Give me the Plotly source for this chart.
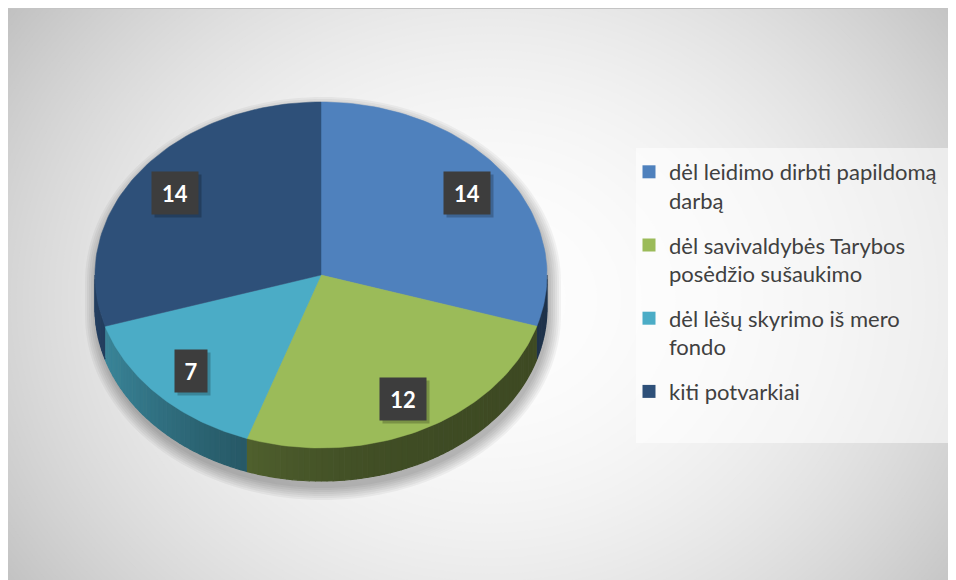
import numpy as np
import plotly.graph_objects as go

# data
labels = ["dėl leidimo dirbti papildomą<br>darbą",
          "dėl savivaldybės Tarybos<br>posėdžio sušaukimo",
          "dėl lėšų skyrimo iš mero<br>fondo",
          "kiti potvarkiai"]
values = [14, 12, 7, 14]
colors = ["#4f81bd", "#9bbb59", "#4bacc6", "#2e5079"]

# pie geometry (page pixels)
cx, cy = 321, 275
rx, ry = 226, 173
depth = 33


def pt(t, dy=0, ex=0):
    t = np.radians(t)
    return cx + (rx + ex) * np.sin(t), cy + dy - (ry + ex) * np.cos(t)


def hex2rgb(c):
    return [int(c[i:i + 2], 16) for i in (1, 3, 5)]


def shade(c, f):
    r, g, b = hex2rgb(c)
    return "rgb(%d,%d,%d)" % (r * f, g * f, b * f)


def px(x):
    return (x - 8) / 948


def py(y):
    return 1 - (y - 8) / 572


fig = go.Figure()

# background radial gradient
shapes = []
bx, by, W, H = 490, 300, 483, 411
for f in np.linspace(1.7, 0, 70):
    g = max(0, 255 - 41 * f)
    s = np.sqrt(f)
    shapes.append(dict(type="circle", xref="x", yref="y", layer="below",
                       x0=bx - W * s, x1=bx + W * s, y0=by - H * s, y1=by + H * s,
                       fillcolor="rgb(%d,%d,%d)" % (g, g, g), line_width=0))
shapes.append(dict(type="line", xref="x", yref="y", layer="below",
                   x0=8, x1=960, y0=8.5, y1=8.5, line=dict(color="#c4c4c4", width=1)))
# legend box
shapes.append(dict(type="rect", xref="x", yref="y", layer="below",
                   x0=636, x1=952, y0=148, y1=443,
                   fillcolor="rgba(255,255,255,0.55)", line_width=0))

# soft shadow under the pie
for e in range(12, -1, -2):
    xs, ys = [], []
    for t in np.arange(-90, 90.1, 2):
        x, y = pt(t, 0, e)
        xs.append(x + 2); ys.append(y + 7)
    for t in np.arange(90, 270.1, 2):
        x, y = pt(t, depth, e)
        xs.append(x + 2); ys.append(y + 7)
    fig.add_trace(go.Scatter(x=xs, y=ys, fill="toself", mode="none",
                             fillcolor="rgba(0,0,0,0.045)", showlegend=False,
                             hoverinfo="skip"))

total = sum(values)
bounds = np.cumsum([0] + values) / total * 360

# sides (front half only), shaded from left to right
for i, c in enumerate(colors):
    a0, a1 = max(bounds[i], 90), min(bounds[i + 1], 270)
    if a1 <= a0:
        continue
    n = int(np.ceil((a1 - a0) / 1.5))
    edges = np.linspace(a0, a1, n + 1)
    for t0, t1 in zip(edges[:-1], edges[1:]):
        ts = np.linspace(t0, t1, 3)
        top = [pt(t) for t in ts]
        bot = [pt(t, depth) for t in ts[::-1]]
        xs = [p[0] for p in top + bot]
        ys = [p[1] for p in top + bot]
        xm = pt((t0 + t1) / 2)[0]
        f = 0.4 + 0.4 * max(0, min(1, (547 - xm) / 452)) ** 3
        fig.add_trace(go.Scatter(x=xs, y=ys, fill="toself", mode="lines",
                                 line=dict(width=1.2, color=shade(c, f)),
                                 fillcolor=shade(c, f), showlegend=False,
                                 hoverinfo="skip"))

# top faces
for i, c in enumerate(colors):
    ts = np.linspace(bounds[i], bounds[i + 1], 80)
    pts = [(cx, cy)] + [pt(t) for t in ts] + [(cx, cy)]
    fig.add_trace(go.Scatter(x=[p[0] for p in pts], y=[p[1] for p in pts],
                             fill="toself", mode="lines",
                             line=dict(width=0.5, color=c), fillcolor=c,
                             showlegend=False, hoverinfo="skip"))

# legend entries
for lab, c in zip(labels, colors):
    fig.add_trace(go.Scatter(x=[None], y=[None], mode="markers", name=lab,
                             legendgroup=lab,
                             marker=dict(symbol="square", size=13, color=c)))

# data labels in dark boxes
annots = []
for i, v in enumerate(values):
    m = np.radians((bounds[i] + bounds[i + 1]) / 2)
    x = cx + 0.8 * rx * np.sin(m)
    y = cy - 0.8 * ry * np.cos(m)
    w = 16 + 14 * len(str(v))
    annots.append(dict(x=x + 3, y=y + 3, xref="x", yref="y", text="",
                       showarrow=False, bgcolor="rgba(0,0,0,0.22)",
                       width=w, height=40))
    annots.append(dict(x=x, y=y, xref="x", yref="y", text="<b>%d</b>" % v,
                       showarrow=False, bgcolor="#3d3d3d",
                       width=w, height=40,
                       font=dict(family="Lato", size=22, color="white")))

fig.update_layout(
    width=948, height=572,
    margin=dict(l=0, r=0, t=0, b=0),
    paper_bgcolor="white", plot_bgcolor="white",
    xaxis=dict(range=[8, 956], visible=False, fixedrange=True),
    yaxis=dict(range=[580, 8], visible=False, fixedrange=True),
    shapes=shapes, annotations=annots,
    showlegend=True,
    legend=dict(x=px(629), y=py(151),
                xanchor="left", yanchor="top", valign="top",
                bgcolor="rgba(0,0,0,0)", tracegroupgap=13,
                font=dict(family="Lato", size=22, color="#404040")),
)

fig.write_html("out.html")
